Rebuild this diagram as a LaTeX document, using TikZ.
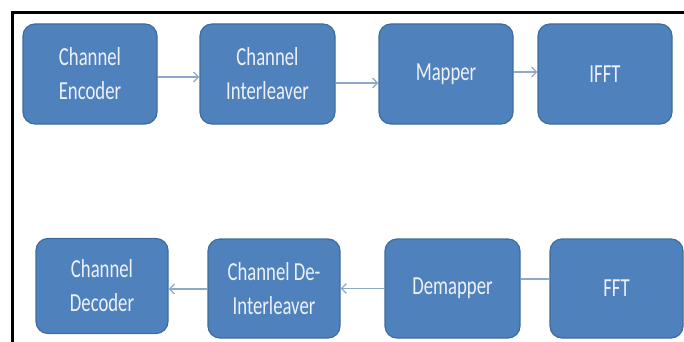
\documentclass[tikz,border=0pt]{standalone}
\usepackage{fontspec}
\setmainfont{Carlito}[FakeStretch=0.72]
\usetikzlibrary{arrows.meta}
\definecolor{boxfill}{HTML}{4F81BD}
\definecolor{boxline}{HTML}{3F6C9E}
\definecolor{arrowc}{HTML}{8EA9C8}
\definecolor{txtc}{HTML}{EEF2F8}
\tikzset{
  blk/.style={draw=boxline, line width=1.2pt, fill=boxfill, rounded corners=12pt,
    text=txtc, align=center, inner sep=0pt,
    font=\fontsize{26}{34}\selectfont},
  conn/.style={draw=arrowc, line width=1.4pt},
  arr/.style={conn, -{Straight Barb[length=5pt,width=10pt,line width=1.2pt]}},
  frame/.style={line width=3pt, draw=black}
}
\begin{document}
\begin{tikzpicture}[x=1pt,y=-1pt]
\useasboundingbox (0,0) rectangle (684,342);
% frame
\draw[frame] (684,12.5) -- (12.5,12.5) -- (12.5,342);
% top row
\node[blk, minimum width=134pt, minimum height=100pt] (enc) at (90,74) {Channel\\Encoder};
\node[blk, minimum width=135pt, minimum height=100pt] (intl) at (267.5,74) {Channel\\Interleaver};
\node[blk, minimum width=134pt, minimum height=100pt] (map) at (446,74) {Mapper};
\node[blk, minimum width=134pt, minimum height=100pt] (ifft) at (605,74) {IFFT};
% bottom row
\node[blk, minimum width=132pt, minimum height=95pt] (dec) at (102,286) {Channel\\Decoder};
\node[blk, minimum width=132pt, minimum height=99pt] (dint) at (274,288.5) {Channel De-\\Interleaver};
\node[blk, minimum width=135pt, minimum height=99pt] (demap) at (452.5,288.5) {Demapper};
\node[blk, minimum width=133pt, minimum height=99pt] (fft) at (616.5,288.5) {FFT};
% connectors
\draw[arr] ([yshift=-3pt]enc.east) -- ([yshift=-3pt]intl.west);
\draw[arr] ([yshift=-9pt]intl.east) -- ([yshift=-9pt]map.west);
\draw[arr] ([yshift=2pt]map.east) -- ([yshift=2pt]ifft.west);
\draw[conn] ([yshift=9.5pt]fft.west) -- ([yshift=9.5pt]demap.east);
\draw[arr] (demap.west) -- (dint.west -| dint.east);
\draw[arr] ([yshift=-0.5pt]dint.west) -- ([yshift=-0.5pt]dint.west -| dec.east);
\end{tikzpicture}
\end{document}
